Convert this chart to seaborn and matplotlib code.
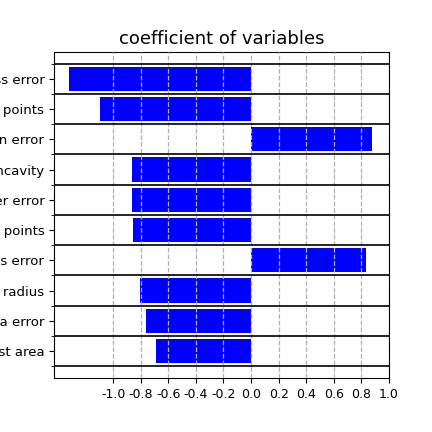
import matplotlib
matplotlib.use("Agg")
import matplotlib.pyplot as plt
import seaborn as sns
import pandas as pd
from matplotlib.ticker import FixedLocator

features = ["compactness error", "mean concave points", "fractal dimension error",
            "worst concavity", "perimeter error", "worst concave points",
            "smoothness error", "worst radius", "area error", "worst area"]
coefs = [-1.318, -1.095, 0.875, -0.863, -0.863, -0.856, 0.832, -0.803, -0.762, -0.689]
xticks = [-1.0, -0.8, -0.6, -0.4, -0.2, 0.0, 0.2, 0.4, 0.6, 0.8, 1.0]

df = pd.DataFrame({"feature": features, "coef": coefs})

fig, ax = plt.subplots(figsize=(4.32, 4.32), dpi=100)
fig.subplots_adjust(left=0.125, right=0.9, top=0.88, bottom=0.125)

sns.barplot(data=df, x="coef", y="feature", orient="h", color="blue",
            saturation=1, width=0.8, ax=ax, zorder=1)

ax.set_xlim(-1.43, 1.0)
ax.set_ylim(len(features) - 0.11, -0.89)
ax.set_xticks(xticks)
ax.set_xticklabels([f"{v:.1f}" for v in xticks])
ax.yaxis.set_minor_locator(FixedLocator([i - 0.5 for i in range(len(features) + 1)]))
ax.grid(axis="x", which="major", linestyle="--", color="#b0b0b0", linewidth=0.9, zorder=2)
ax.grid(axis="y", which="minor", linestyle="-", color="black", linewidth=1.2, zorder=2)
ax.grid(axis="y", which="major", visible=False)
ax.set_axisbelow(False)
ax.set_xlabel("")
ax.set_ylabel("")
ax.set_title("coefficient of variables", fontsize=13)
ax.tick_params(axis="x", labelsize=9)
ax.tick_params(axis="y", labelsize=9.5)
for s in ax.spines.values():
    s.set_visible(True)
    s.set_color("black")

fig.savefig("out.png", dpi=100)
